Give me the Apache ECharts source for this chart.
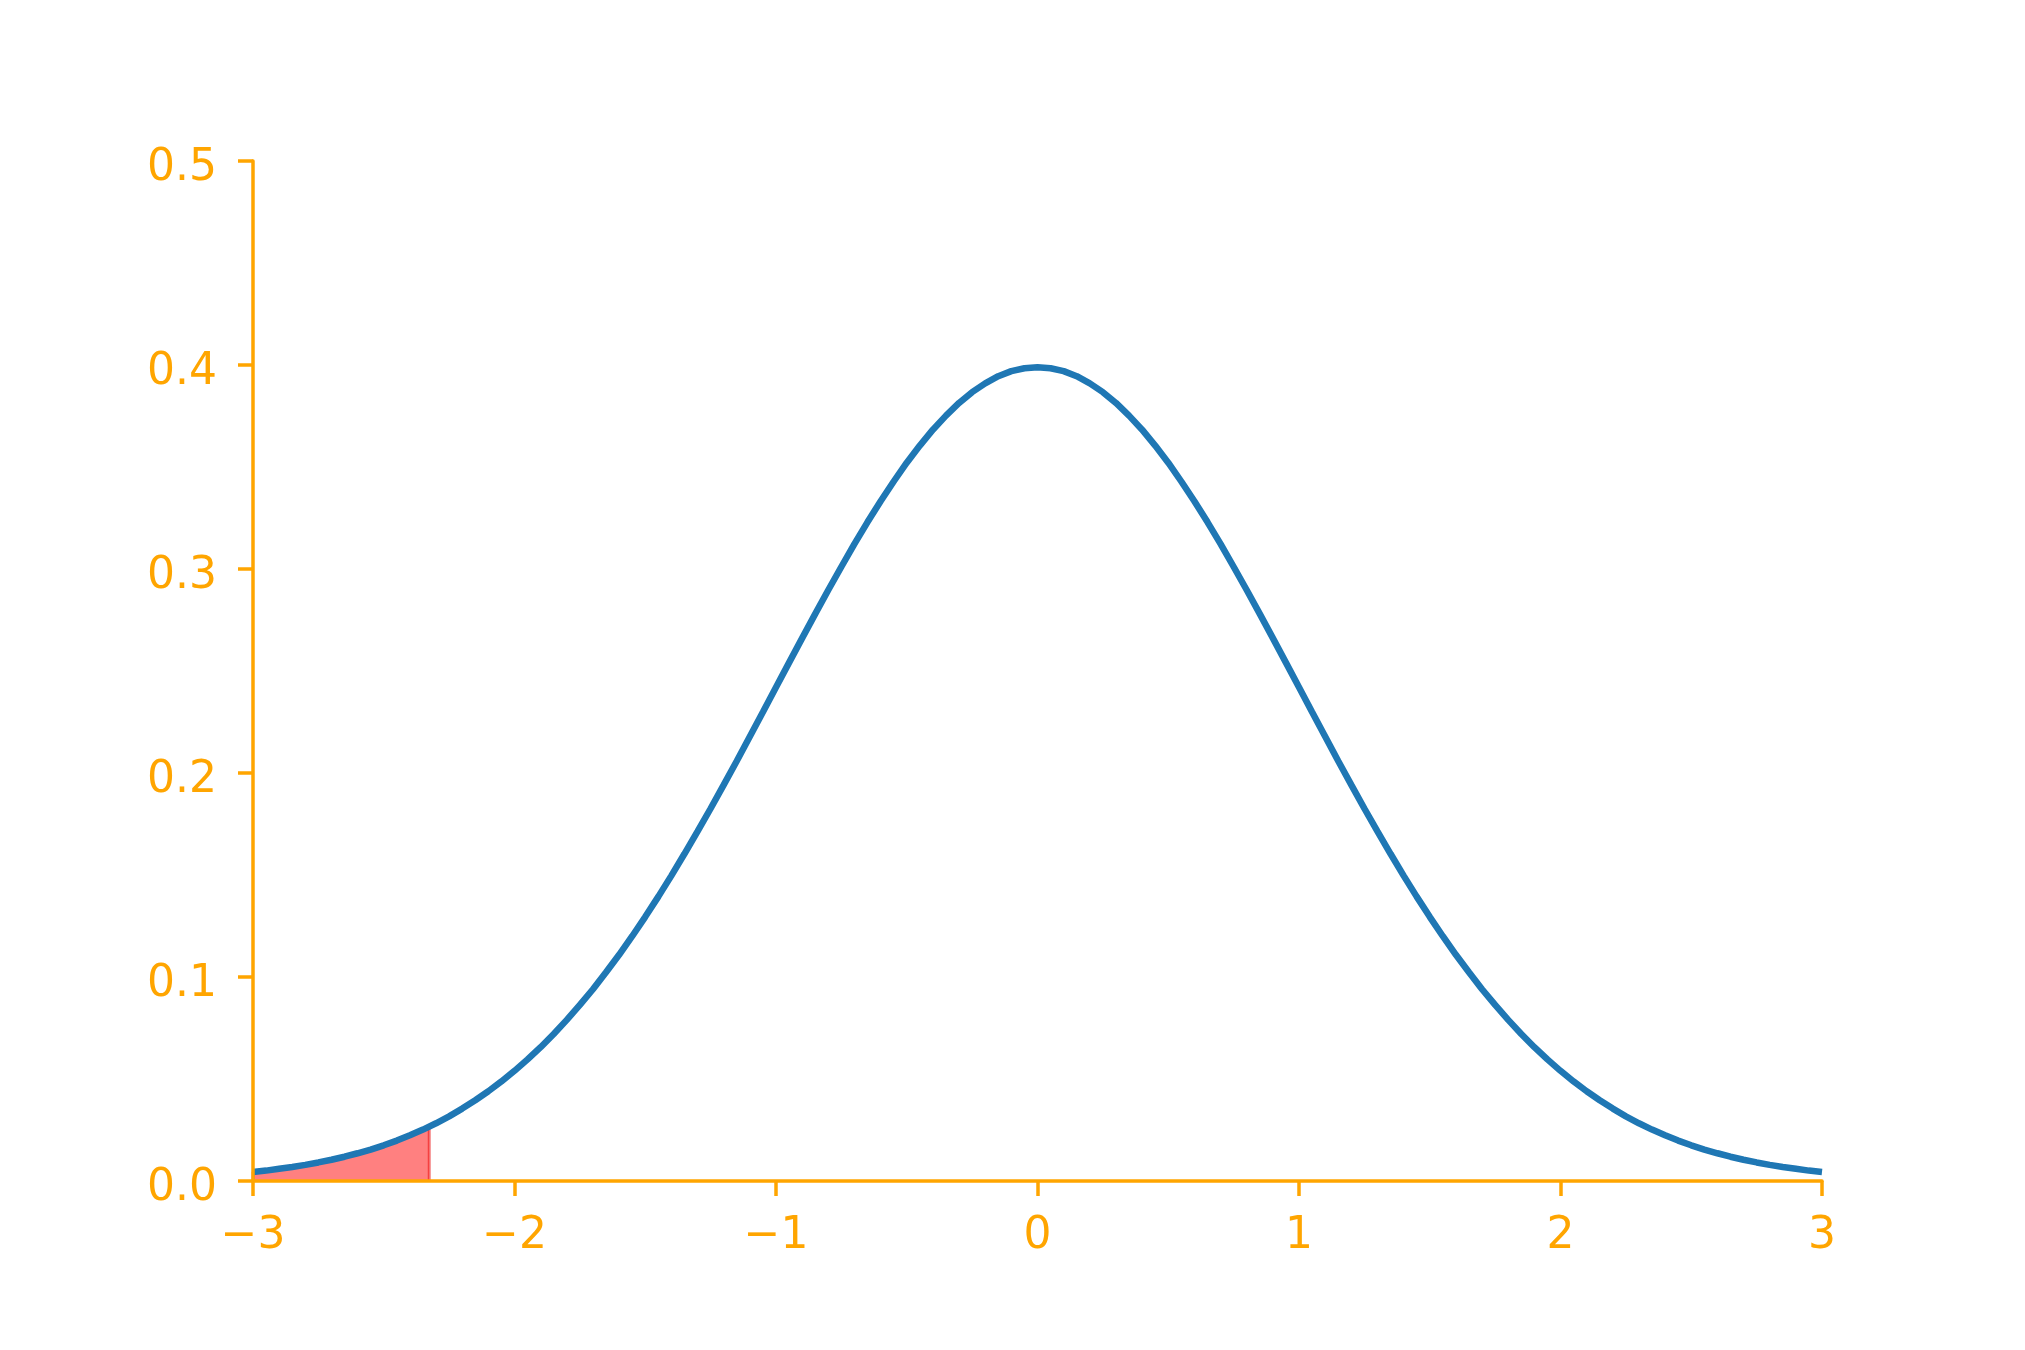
<!DOCTYPE html>
<html>
<head>
<meta charset="utf-8">
<script src="https://cdn.jsdelivr.net/npm/echarts@6/dist/echarts.min.js"></script>
<style>html,body{margin:0;padding:0;background:#fff}#c{width:2025px;height:1350px}</style>
</head>
<body>
<div id="c"></div>
<script>
// x positions of the curve (step 0.05)
const xValues = [-3.00,-2.95,-2.90,-2.85,-2.80,-2.75,-2.70,-2.65,-2.60,-2.55,-2.50,-2.45,-2.40,-2.35,-2.30,-2.25,-2.20,-2.15,-2.10,-2.05,-2.00,-1.95,-1.90,-1.85,-1.80,-1.75,-1.70,-1.65,-1.60,-1.55,-1.50,-1.45,-1.40,-1.35,-1.30,-1.25,-1.20,-1.15,-1.10,-1.05,-1.00,-0.95,-0.90,-0.85,-0.80,-0.75,-0.70,-0.65,-0.60,-0.55,-0.50,-0.45,-0.40,-0.35,-0.30,-0.25,-0.20,-0.15,-0.10,-0.05,0.00,0.05,0.10,0.15,0.20,0.25,0.30,0.35,0.40,0.45,0.50,0.55,0.60,0.65,0.70,0.75,0.80,0.85,0.90,0.95,1.00,1.05,1.10,1.15,1.20,1.25,1.30,1.35,1.40,1.45,1.50,1.55,1.60,1.65,1.70,1.75,1.80,1.85,1.90,1.95,2.00,2.05,2.10,2.15,2.20,2.25,2.30,2.35,2.40,2.45,2.50,2.55,2.60,2.65,2.70,2.75,2.80,2.85,2.90,2.95,3.00];
// density values
const densityValues = [0.0044,0.0051,0.0060,0.0069,0.0079,0.0091,0.0104,0.0119,0.0136,0.0154,0.0175,0.0198,0.0224,0.0252,0.0283,0.0317,0.0355,0.0396,0.0440,0.0488,0.0540,0.0596,0.0656,0.0721,0.0790,0.0863,0.0940,0.1023,0.1109,0.1200,0.1295,0.1394,0.1497,0.1604,0.1714,0.1826,0.1942,0.2059,0.2179,0.2299,0.2420,0.2541,0.2661,0.2780,0.2897,0.3011,0.3123,0.3230,0.3332,0.3429,0.3521,0.3605,0.3683,0.3752,0.3814,0.3867,0.3910,0.3945,0.3970,0.3984,0.3989,0.3984,0.3970,0.3945,0.3910,0.3867,0.3814,0.3752,0.3683,0.3605,0.3521,0.3429,0.3332,0.3230,0.3123,0.3011,0.2897,0.2780,0.2661,0.2541,0.2420,0.2299,0.2179,0.2059,0.1942,0.1826,0.1714,0.1604,0.1497,0.1394,0.1295,0.1200,0.1109,0.1023,0.0940,0.0863,0.0790,0.0721,0.0656,0.0596,0.0540,0.0488,0.0440,0.0396,0.0355,0.0317,0.0283,0.0252,0.0224,0.0198,0.0175,0.0154,0.0136,0.0119,0.0104,0.0091,0.0079,0.0069,0.0060,0.0051,0.0044];
// shaded tail region (up to about -2.33)
const tailX = [-3.00,-2.95,-2.90,-2.85,-2.80,-2.75,-2.70,-2.65,-2.60,-2.55,-2.50,-2.45,-2.40,-2.35,-2.326];
const tailY = [0.0044,0.0051,0.0060,0.0069,0.0079,0.0091,0.0104,0.0119,0.0136,0.0154,0.0175,0.0198,0.0224,0.0252,0.0267];
const xTicks = [-3,-2,-1,0,1,2,3];
const yTicks = [0.0,0.1,0.2,0.3,0.4,0.5];

const curve = xValues.map((x,i)=>[x,densityValues[i]]);
const tail = [[tailX[0],0]].concat(tailX.map((x,i)=>[x,tailY[i]])).concat([[tailX[tailX.length-1],0]]);

const orange = '#FFA500';
const font = 'DejaVu Sans';
const chart = echarts.init(document.getElementById('c'), null, {renderer:'canvas'});
chart.setOption({
  animation:false,
  backgroundColor:'#ffffff',
  grid:{left:253, right:203, top:161, bottom:169, containLabel:false},
  xAxis:{
    type:'value', min:xTicks[0], max:xTicks[xTicks.length-1], interval:1, z:5,
    axisLine:{show:true, onZero:false, lineStyle:{color:orange, width:3.5}},
    axisTick:{show:true, length:15, lineStyle:{color:orange, width:3.5}},
    axisLabel:{color:orange, fontSize:44, fontFamily:font, margin:34,
      formatter:v=>String(v).replace('-', '\u2212')},
    splitLine:{show:false}
  },
  yAxis:{
    type:'value', min:yTicks[0], max:yTicks[yTicks.length-1], interval:0.1, z:5,
    axisLine:{show:true, onZero:false, lineStyle:{color:orange, width:3.5}},
    axisTick:{show:true, length:15, lineStyle:{color:orange, width:3.5}},
    axisLabel:{color:orange, fontSize:44, fontFamily:font, margin:36,
      formatter:v=>'{p|'+v.toFixed(1)+'}',
      rich:{p:{color:orange, fontSize:44, fontFamily:font, padding:[15,0,0,0]}}},
    splitLine:{show:false}
  },
  series:[
    {type:'line', data:tail, showSymbol:false, symbol:'none', z:2,
      lineStyle:{color:'rgba(235,0,0,0.5)', width:3},
      areaStyle:{color:'#ff8080', opacity:1, origin:'start'}},
    {type:'line', data:curve, showSymbol:false, symbol:'none', z:3, smooth:false,
      lineStyle:{color:'#1f77b4', width:6.5}}
  ]
});
</script>
</body>
</html>
